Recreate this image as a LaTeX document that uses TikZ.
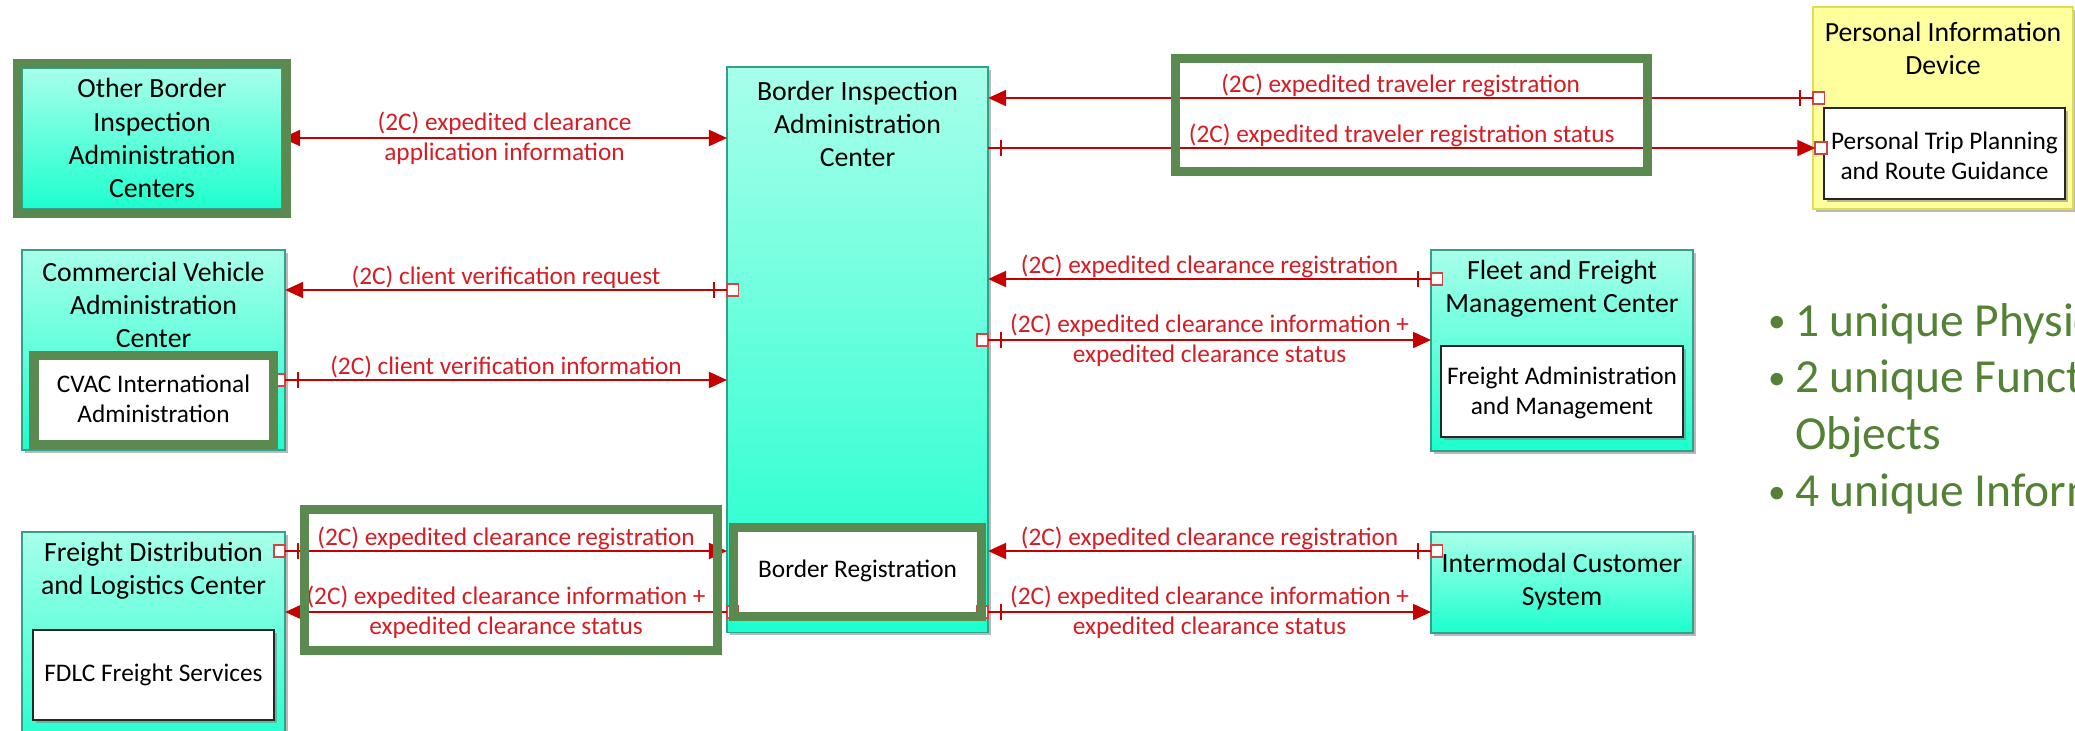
\documentclass[tikz,border=0pt]{standalone}
\usepackage{fontspec}
\setmainfont{Carlito}
\usetikzlibrary{arrows.meta,shadows,calc}

\definecolor{boxtop}{RGB}{168,255,234}
\definecolor{boxbot}{RGB}{28,255,206}
\definecolor{boxline}{RGB}{52,160,138}
\definecolor{hilite}{RGB}{90,138,80}
\definecolor{flowred}{RGB}{196,0,0}
\definecolor{flowtext}{RGB}{214,28,36}
\definecolor{portred}{RGB}{205,70,70}
\definecolor{pidfill}{RGB}{255,255,158}
\definecolor{pidline}{RGB}{222,222,80}
\definecolor{bulletgreen}{RGB}{84,130,53}

\newcommand{\sumbullet}{{\fontsize{10}{12}\selectfont\raisebox{1pt}{•}}}

\tikzset{
  every node/.style={inner sep=0pt, outer sep=0pt},
  boxshadow/.style={drop shadow={shadow xshift=0.8pt, shadow yshift=-0.8pt, fill=black!50, opacity=0.55}},
  entity/.style={draw=boxline, line width=0.45pt, top color=boxtop, bottom color=boxbot, boxshadow, anchor=north west},
  device/.style={draw=pidline, line width=0.6pt, fill=pidfill, boxshadow, anchor=north west},
  func/.style={draw=black!85, line width=0.6pt, fill=white, boxshadow, anchor=north west},
  title/.style={align=center, font=\fontsize{7.9}{9.4}\selectfont, text=black},
  functitle/.style={align=center, font=\fontsize{7.2}{8.5}\selectfont, text=black},
  flow/.style={draw=flowred, line width=0.6pt},
  lbl/.style={anchor=base, yshift=1.5pt, font=\fontsize{7.2}{8.5}\selectfont, text=flowtext},
  lbltwo/.style={anchor=center, align=center, font=\fontsize{7.2}{8.5}\selectfont, text=flowtext},
  port/.style={draw=portred, fill=white, line width=0.5pt, minimum size=0.115cm},
  tickln/.style={draw=flowred, line width=0.45pt},
  hiframe/.style={draw=hilite, line width=2.56pt},
}

\begin{document}
\begin{tikzpicture}[x=0.01cm, y=-0.01cm]
\useasboundingbox (0,0) rectangle (2075,730);
\fill[white] (0,0) rectangle (2075,730);
\clip (0,0) rectangle (2075,730);

% ---------- physical objects ----------
\node[entity, minimum width=2.60cm, minimum height=1.41cm] (ob) at (22,68) {};
\node[entity, minimum width=2.61cm, minimum height=5.65cm] (biac) at (727,67) {};
\node[entity, minimum width=2.63cm, minimum height=2.00cm] (cvac) at (22,250) {};
\node[entity, minimum width=2.63cm, minimum height=2.25cm] (fdlc) at (22,532) {};
\node[entity, minimum width=2.62cm, minimum height=2.01cm] (ffmc) at (1431,250) {};
\node[entity, minimum width=2.62cm, minimum height=1.01cm] (ics) at (1431,532) {};
\node[device, minimum width=2.60cm, minimum height=2.02cm] (pid) at (1813,7) {};

% ---------- functional objects ----------
\node[func, minimum width=2.48cm, minimum height=0.89cm] (br) at (733.5,527.5) {};
\node[func, minimum width=2.39cm, minimum height=0.88cm] (cvaci) at (34,356) {};
\node[func, minimum width=2.41cm, minimum height=0.90cm] (fdlci) at (33,630) {};
\node[func, minimum width=2.42cm, minimum height=0.91cm] (fam) at (1441,346) {};
\node[func, minimum width=2.41cm, minimum height=0.91cm] (ptp) at (1824,108) {};

% ---------- titles ----------
\node[title] (ob-t) at (152,138) {Other Border\\Inspection\\Administration\\Centers};
\node[title] (biac-t) at (857.5,124) {Border Inspection\\Administration\\Center};
\node[title] (cvac-t) at (153.5,305) {Commercial Vehicle\\Administration\\Center};
\node[title] (fdlc-t) at (153.5,571) {Freight Distribution\\and Logistics Center};
\node[title] (ffmc-t) at (1562,289) {Fleet and Freight\\Management Center};
\node[title] (ics-t) at (1562,582) {Intermodal Customer\\System};
\node[title] (pid-t) at (1943,48) {Personal Information\\Device};
\node[functitle] (br-t) at (857.5,571) {Border Registration};
\node[functitle] (cvaci-t) at (153.5,399) {CVAC International\\Administration};
\node[functitle] (fdlci-t) at (153.5,675) {FDLC Freight Services};
\node[functitle] (fam-t) at (1562,393) {Freight Administration\\and Management};
\node[functitle] (ptp-t) at (1944.5,156) {Personal Trip Planning\\and Route Guidance};

% ---------- flow levels ----------
\coordinate (f1) at (0,138);
\coordinate (f2) at (0,290);
\coordinate (f3) at (0,380);
\coordinate (f4) at (0,551);
\coordinate (f5) at (0,612);
\coordinate (f6) at (0,98);
\coordinate (f7) at (0,148);
\coordinate (f8) at (0,279);
\coordinate (f9) at (0,340);

% ---------- interface ports ----------
\node[port, anchor=west] (s2) at (biac.west |- f2) {};
\node[port, anchor=east] (s3) at (cvac.east |- f3) {};
\node[port, anchor=east] (s4) at (fdlc.east |- f4) {};
\node[port, anchor=west] (s5) at (biac.west |- f5) {};
\node[port, anchor=west] (s6) at (pid.west |- f6) {};
\node[port, xshift=-0.03cm] (s7) at (ptp.west |- f7) {};
\node[port, anchor=west] (s8) at (ffmc.west |- f8) {};
\node[port, anchor=east] (s9) at (biac.east |- f9) {};
\node[port, anchor=west] (s10) at (ics.west |- f4) {};
\node[port, anchor=east] (s11) at (biac.east |- f5) {};

% ---------- information flows ----------
\draw[flow, {Triangle[length=0.18cm, width=0.16cm]}-{Triangle[length=0.18cm, width=0.16cm]}]
  (ob.east |- f1) -- node[lbltwo] (l1) {(2C) expedited clearance\\application information} (biac.west |- f1);
\draw[flow, -{Triangle[length=0.18cm, width=0.16cm]}]
  (s2.west) -- node[lbl] (l2) {(2C) client verification request} (cvac.east |- s2);
\draw[flow, -{Triangle[length=0.18cm, width=0.16cm]}]
  (s3.east) -- node[lbl] (l3) {(2C) client verification information} (biac.west |- s3);
\draw[flow, -{Triangle[length=0.18cm, width=0.16cm]}]
  (s4.east) -- node[lbl] (l4) {(2C) expedited clearance registration} (biac.west |- s4);
\draw[flow, -{Triangle[length=0.18cm, width=0.16cm]}]
  (s5.west) -- node[lbltwo] (l5) {(2C) expedited clearance information +\\expedited clearance status} (fdlc.east |- s5);
\draw[flow, -{Triangle[length=0.18cm, width=0.16cm]}]
  (s6.west) -- node[lbl] (l6) {(2C) expedited traveler registration} (biac.east |- s6);
\draw[flow, -{Triangle[length=0.18cm, width=0.16cm]}]
  (biac.east |- s7) -- node[lbl] (l7) {(2C) expedited traveler registration status} (s7.west);
\draw[flow, -{Triangle[length=0.18cm, width=0.16cm]}]
  (s8.west) -- node[lbl] (l8) {(2C) expedited clearance registration} (biac.east |- s8);
\draw[flow, -{Triangle[length=0.18cm, width=0.16cm]}]
  (s9.east) -- node[lbltwo] (l9) {(2C) expedited clearance information +\\expedited clearance status} (ffmc.west |- s9);
\draw[flow, -{Triangle[length=0.18cm, width=0.16cm]}]
  (s10.west) -- node[lbl] (l10) {(2C) expedited clearance registration} (biac.east |- s10);
\draw[flow, -{Triangle[length=0.18cm, width=0.16cm]}]
  (s11.east) -- node[lbltwo] (l11) {(2C) expedited clearance information +\\expedited clearance status} (ics.west |- s11);

% ---------- end ticks ----------
\draw[tickln] ($(s2.west)+(-13,-8)$) -- ++(0,16);
\draw[tickln] ($(s3.east)+(13,-8)$) -- ++(0,16);
\draw[tickln] ($(s4.east)+(13,-8)$) -- ++(0,16);
\draw[tickln] ($(s5.west)+(-13,-8)$) -- ++(0,16);
\draw[tickln] ($(s6.west)+(-13,-8)$) -- ++(0,16);
\draw[tickln] ($(biac.east |- s7)+(13,-8)$) -- ++(0,16);
\draw[tickln] ($(s8.west)+(-13,-8)$) -- ++(0,16);
\draw[tickln] ($(s9.east)+(13,-8)$) -- ++(0,16);
\draw[tickln] ($(s10.west)+(-13,-8)$) -- ++(0,16);
\draw[tickln] ($(s11.east)+(13,-8)$) -- ++(0,16);

% ---------- highlight frames ----------
\draw[hiframe] (17.5,63.5) rectangle (286.5,213);
\draw[hiframe] (34,355.5) rectangle (273,444);
\draw[hiframe] (733.5,527) rectangle (981.5,616.5);
\draw[hiframe] (1175.5,58) rectangle (1647.5,171.5);
\draw[hiframe] (304.5,509) rectangle (717.5,650);

% ---------- summary ----------
\node[anchor=base west, text=bulletgreen, font=\fontsize{13.5}{16.2}\selectfont] (summary) at (1768,336)
  {\begin{tabular}[t]{@{}l@{\hspace{2.7pt}}l@{}}
   \sumbullet&1 unique Physical Object\\
   \sumbullet&2 unique Functional\\
    &Objects\\
   \sumbullet&4 unique Information Flows
   \end{tabular}};
\end{tikzpicture}
\end{document}
